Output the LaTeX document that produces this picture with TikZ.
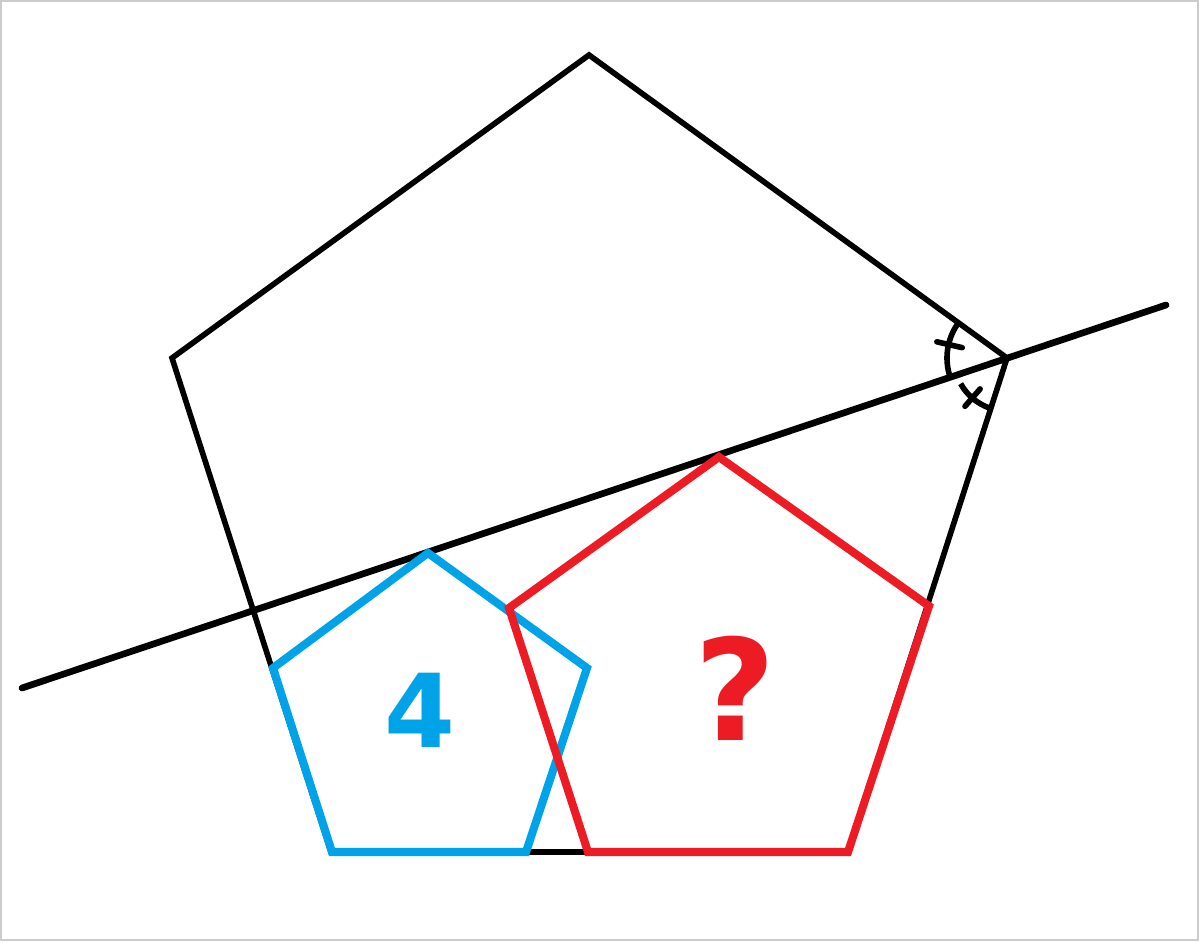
\documentclass[tikz,border=0pt]{standalone}
\usepackage{fontspec}
\setmainfont{DejaVu Sans}
\definecolor{pblue}{RGB}{0,162,232}
\definecolor{pred}{RGB}{237,28,36}
\begin{document}
\begin{tikzpicture}[x=0.01cm,y=-0.01cm]
\useasboundingbox (0,0) rectangle (1200,942);
\draw [gray!40,line width=0.6pt] (1,1) rectangle (1198,940);
\coordinate (V) at (1007,358); % vertex on the line
\draw [line width=1.6pt] (589,55)--(V)--(848,852)--(331,852)--(172,358)--cycle;
\draw [line width=1.9pt,line cap=round] (22,688)--(1166,305);
% equal angles
\draw [line width=1.6pt] ([shift={(V)}]214:60) arc[start angle=214,end angle=160.5,radius=60];
\draw [line width=1.6pt] ([shift={(V)}]151:53) arc[start angle=151,end angle=108,radius=53];
\draw [line width=1.6pt,line cap=round] ([shift={(V)}]193:46)--([shift={(V)}]193:72);
\draw [line width=1.6pt,line cap=round] ([shift={(V)}]131:41)--([shift={(V)}]131:64);
\draw [pblue,line width=2.3pt] (428,553)--(587,668)--(526,852)--(332,852)--(273,668)--cycle;
\draw [pred,line width=2.3pt] (719,457)--(929,606)--(848,852)--(588,852)--(509,608)--cycle;
\node (four) [pblue,font=\fontsize{29}{29}\selectfont\bfseries] at (420,710) {4};
\node (ask) [pred,font=\fontsize{40}{40}\selectfont\bfseries] at (735,688) {?};
\end{tikzpicture}
\end{document}
